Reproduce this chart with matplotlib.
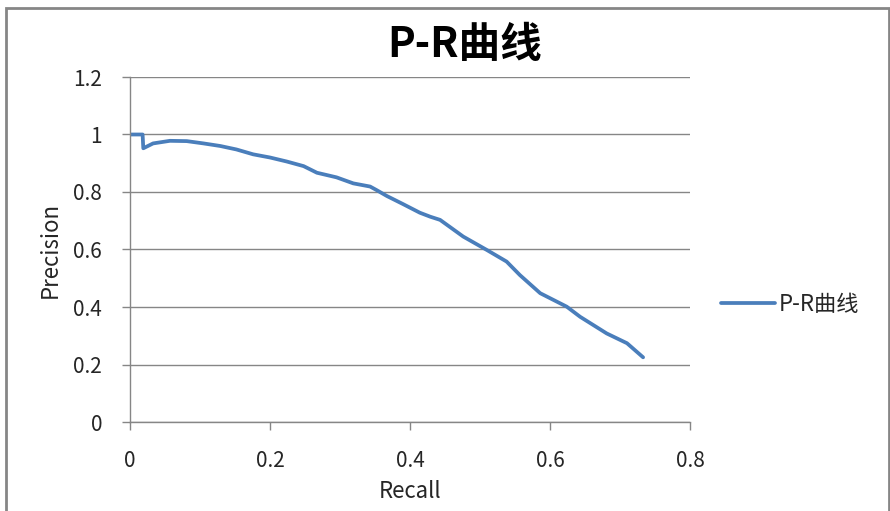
import matplotlib
matplotlib.use("Agg")
import matplotlib.pyplot as plt
from matplotlib.patches import Rectangle

plt.rcParams['font.family'] = ['Noto Sans CJK SC', 'DejaVu Sans']

# 数据
recall = [0.0, 0.018, 0.019, 0.033, 0.057, 0.081, 0.105, 0.129, 0.152, 0.176,
          0.2, 0.224, 0.248, 0.267, 0.295, 0.319, 0.343, 0.352, 0.367, 0.39,
          0.414, 0.429, 0.443, 0.476, 0.51, 0.538, 0.557, 0.586, 0.624, 0.643,
          0.681, 0.71, 0.733]
precision = [1.0, 1.0, 0.952, 0.969, 0.978, 0.977, 0.969, 0.96, 0.948, 0.931,
             0.92, 0.906, 0.89, 0.867, 0.851, 0.83, 0.819, 0.807, 0.786, 0.758,
             0.728, 0.714, 0.703, 0.645, 0.598, 0.558, 0.511, 0.448, 0.401, 0.366,
             0.308, 0.274, 0.225]
x_ticks = [0, 0.2, 0.4, 0.6, 0.8]
x_labels = ["0", "0.2", "0.4", "0.6", "0.8"]
y_ticks = [0, 0.2, 0.4, 0.6, 0.8, 1.0, 1.2]
y_labels = ["0", "0.2", "0.4", "0.6", "0.8", "1", "1.2"]
serie = "P-R曲线"

gris = "#868686"
texto = "#262626"

fig = plt.figure(figsize=(8.9, 5.11), dpi=100)
ax = fig.add_axes([130 / 890, 89 / 511, 560 / 890, 345 / 511])

ax.plot(recall, precision, color="#4A7EBB", linewidth=2.7, label=serie,
        solid_capstyle="round", solid_joinstyle="round")

ax.set_xlim(0, 0.8)
ax.set_ylim(0, 1.2)
ax.set_xticks(x_ticks)
ax.set_xticklabels(x_labels)
ax.set_yticks(y_ticks)
ax.set_yticklabels(y_labels)
ax.grid(axis="y", color=gris, linewidth=1)
ax.set_axisbelow(True)

for lado in ["top", "right"]:
    ax.spines[lado].set_visible(False)
for lado in ["left", "bottom"]:
    ax.spines[lado].set_color(gris)
    ax.spines[lado].set_linewidth(1)

ax.tick_params(axis="both", direction="out", length=6, width=1, color=gris,
               labelsize=15, labelcolor=texto)
ax.tick_params(axis="y", pad=14)
ax.tick_params(axis="x", pad=14)

ax.set_xlabel("Recall", fontsize=16, color=texto, labelpad=6)
ax.set_ylabel("Precision", fontsize=16, color=texto, labelpad=8)
fig.text(465 / 890, 1 - 45 / 511, serie, fontsize=30, fontweight="bold",
         ha="center", va="center", color="black")

ax.legend(loc="center left", bbox_to_anchor=(1.02, 0.342), frameon=False,
          fontsize=16, handlelength=2.4, handletextpad=0.2, labelcolor=texto)

# marco del gráfico
fig.patches.append(Rectangle((6 / 890, -0.05), 883 / 890, 1.05 - 8 / 511,
                             transform=fig.transFigure, fill=False,
                             edgecolor=gris, linewidth=2))

plt.savefig("out.png", dpi=100)
